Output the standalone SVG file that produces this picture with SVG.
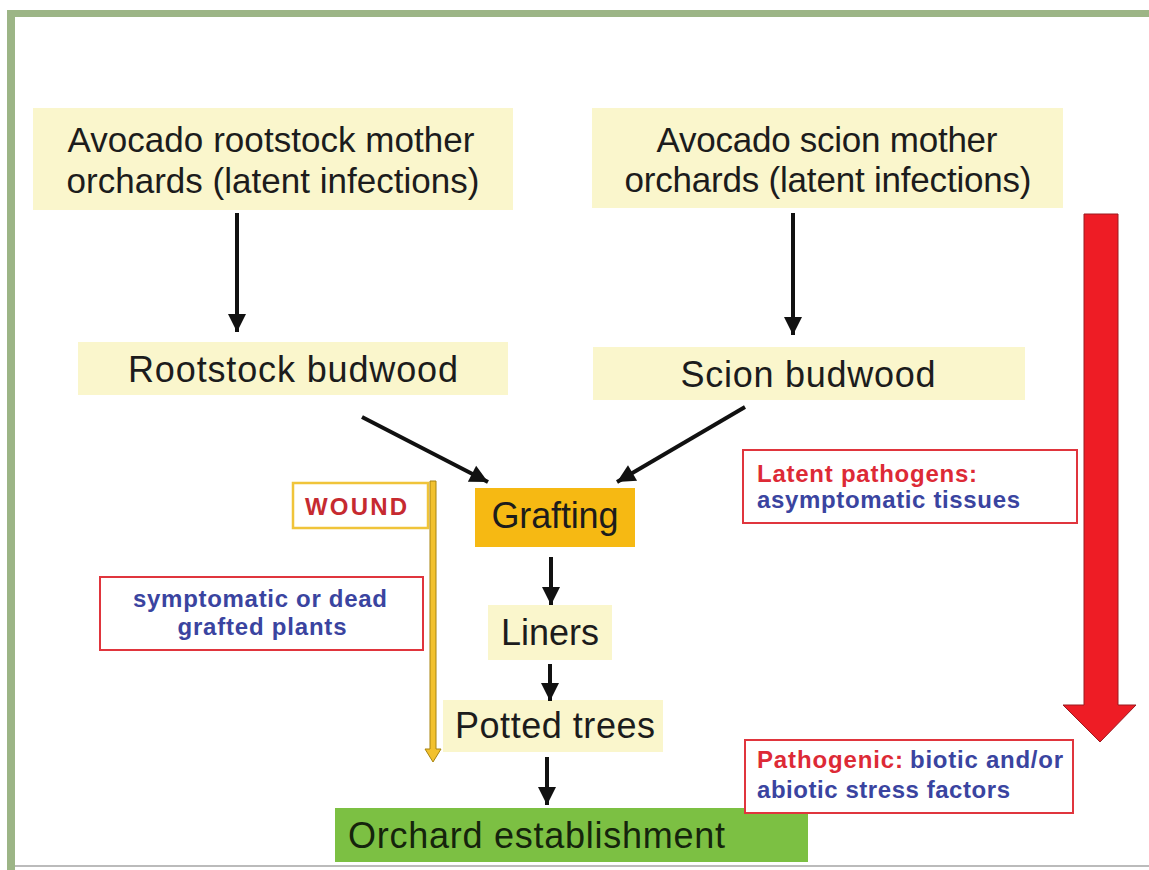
<svg xmlns="http://www.w3.org/2000/svg" width="1149" height="870" viewBox="0 0 1149 870">
<defs>
<style>
.box{fill:#faf6cc}
.main{font-family:"Liberation Sans",Arial,sans-serif;font-size:36px;fill:#1c1c1c}
.top{font-size:35px}
.lbl{font-family:"Liberation Sans",Arial,sans-serif;font-size:24px;font-weight:bold}
.red{fill:#dd2a36}
.blue{fill:#3a44a0}
.rbox{fill:#ffffff;stroke:#e0353d;stroke-width:2}
.conn{stroke:#111111;stroke-width:4;fill:none;marker-end:url(#ah)}
</style>
<marker id="ah" markerUnits="userSpaceOnUse" markerWidth="22" markerHeight="22" viewBox="0 0 22 22" refX="20" refY="11" orient="auto">
<path d="M2,2 L20,11 L2,20 Z" fill="#111111"/>
</marker>
</defs>
<rect x="0" y="0" width="1149" height="870" fill="#ffffff"/>
<rect x="7" y="10" width="1142" height="7" fill="#9cb586"/>
<rect x="7" y="10" width="8" height="860" fill="#9cb586"/>
<line x1="15" y1="866" x2="1149" y2="866" stroke="#bbbbbb" stroke-width="2"/>

<g id="rootstock-mother">
<rect class="box" x="33" y="108" width="480" height="102"/>
<text class="main top" x="271" y="152" text-anchor="middle" textLength="407" lengthAdjust="spacing">Avocado rootstock mother</text>
<text class="main top" x="273" y="193" text-anchor="middle" textLength="413" lengthAdjust="spacing">orchards (latent infections)</text>
</g>
<g id="scion-mother">
<rect class="box" x="592" y="108" width="471" height="100"/>
<text class="main top" x="827" y="152" text-anchor="middle" textLength="341" lengthAdjust="spacing">Avocado scion mother</text>
<text class="main top" x="828" y="192" text-anchor="middle" textLength="407" lengthAdjust="spacing">orchards (latent infections)</text>
</g>
<g id="rootstock-budwood">
<rect class="box" x="78" y="342" width="430" height="53"/>
<text class="main" x="293" y="382" text-anchor="middle" textLength="330" lengthAdjust="spacing">Rootstock budwood</text>
</g>
<g id="scion-budwood">
<rect class="box" x="593" y="347" width="432" height="53"/>
<text class="main" x="808" y="387" text-anchor="middle" textLength="255" lengthAdjust="spacing">Scion budwood</text>
</g>
<g id="grafting">
<rect x="475" y="488" width="160" height="59" fill="#f6b913"/>
<text class="main" x="555" y="528" text-anchor="middle" textLength="127" lengthAdjust="spacing">Grafting</text>
</g>
<g id="liners">
<rect class="box" x="488" y="605" width="124" height="55"/>
<text class="main" x="550" y="645" text-anchor="middle">Liners</text>
</g>
<g id="potted-trees">
<rect class="box" x="443" y="700" width="220" height="52"/>
<text class="main" x="555" y="738" text-anchor="middle" textLength="200" lengthAdjust="spacing">Potted trees</text>
</g>
<g id="orchard-establishment">
<rect x="335" y="808" width="473" height="54" fill="#7cc043"/>
<text class="main" x="348" y="848" textLength="377" lengthAdjust="spacing" style="fill:#15240c">Orchard establishment</text>
</g>
<g id="wound">
<rect x="293" y="483" width="135" height="45" fill="#ffffff" stroke="#f0c43a" stroke-width="2.5"/>
<text class="lbl" x="356" y="515" text-anchor="middle" textLength="102" lengthAdjust="spacing" style="fill:#c62a30">WOUND</text>
</g>
<g id="symptomatic">
<rect class="rbox" x="100" y="577" width="323" height="73"/>
<text class="lbl blue" x="260" y="607" text-anchor="middle" textLength="254" lengthAdjust="spacing">symptomatic or dead</text>
<text class="lbl blue" x="262" y="635" text-anchor="middle" textLength="169" lengthAdjust="spacing">grafted plants</text>
</g>
<g id="latent-pathogens">
<rect class="rbox" x="743" y="450" width="334" height="73"/>
<text class="lbl red" x="757" y="482" textLength="220" lengthAdjust="spacing">Latent pathogens:</text>
<text class="lbl blue" x="757" y="508" textLength="263" lengthAdjust="spacing">asymptomatic tissues</text>
</g>
<g id="pathogenic">
<rect class="rbox" x="745" y="740" width="328" height="73"/>
<text class="lbl red" x="757" y="768" textLength="146" lengthAdjust="spacing">Pathogenic:</text>
<text class="lbl blue" x="910" y="768" textLength="153" lengthAdjust="spacing">biotic and/or</text>
<text class="lbl blue" x="757" y="798" textLength="253" lengthAdjust="spacing">abiotic stress factors</text>
</g>

<g id="connectors">
<line class="conn" x1="237" y1="213" x2="237" y2="332"/>
<line class="conn" x1="793" y1="213" x2="793" y2="335"/>
<line class="conn" x1="362" y1="417" x2="488" y2="482"/>
<line class="conn" x1="745" y1="407" x2="617" y2="482"/>
<line class="conn" x1="551" y1="557" x2="551" y2="605"/>
<line class="conn" x1="550" y1="664" x2="550" y2="701"/>
<line class="conn" x1="547" y1="757" x2="547" y2="805"/>
<polygon points="430,481 436,481 436,749 441,749 433,762 425,749 430,749" fill="#f2c12e" stroke="#a8840f" stroke-width="1"/>
<polygon points="1084,214 1118,214 1118,705 1136,705 1100,742 1063,705 1084,705" fill="#ee1c25" stroke="#9a1a20" stroke-width="1"/>
</g>
</svg>
